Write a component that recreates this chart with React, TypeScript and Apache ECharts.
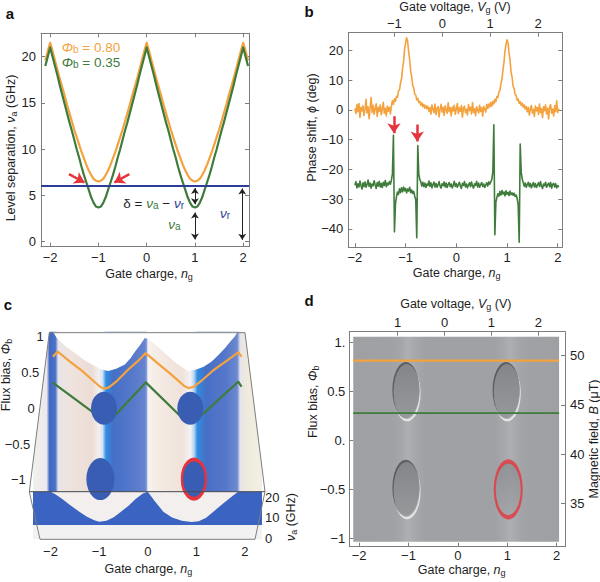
import React, { useEffect, useRef } from 'react';
import * as echarts from 'echarts';

const FONT = '"Liberation Sans", Arial, Helvetica, sans-serif';
const MINUS = '\u2212';
const ORANGE = '#f4a23e';
const GREEN = '#3f7b3b';
const BLUE = '#2d3e98';
const RED = '#e6343c';
const FRAME = '#7d7d7d';
const INK = '#1e1e1e';
const CLEAR = 'rgba(0,0,0,0)';

// ---------- a: level separation vs gate charge ----------
const NG_A_START = -2.1;
const NG_A_STEP = 0.05;
const NU_ORANGE = [
  19.6, 20.6, 21.5,
  20.6, 19.6, 18.6, 17.6, 16.7, 15.8, 14.8, 13.9, 13.0, 12.1, 11.3, 10.5, 9.7, 9.0, 8.3, 7.7, 7.2, 6.8, 6.6,
  6.5,
  6.6, 6.8, 7.2, 7.7, 8.3, 9.0, 9.7, 10.5, 11.3, 12.1, 13.0, 13.9, 14.8, 15.8, 16.7, 17.6, 18.6, 19.6, 20.6,
  21.5,
  20.6, 19.6, 18.6, 17.6, 16.7, 15.8, 14.8, 13.9, 13.0, 12.1, 11.3, 10.5, 9.7, 9.0, 8.3, 7.7, 7.2, 6.8, 6.6,
  6.5,
  6.6, 6.8, 7.2, 7.7, 8.3, 9.0, 9.7, 10.5, 11.3, 12.1, 13.0, 13.9, 14.8, 15.8, 16.7, 17.6, 18.6, 19.6, 20.6,
  21.5,
  20.6, 19.6,
];
const NU_GREEN = [
  19.0, 20.0, 21.0,
  20.0, 19.0, 18.0, 16.9, 15.9, 14.9, 13.9, 12.9, 12.0, 11.0, 10.0, 9.1, 8.1, 7.2, 6.4, 5.6, 4.8, 4.2, 3.8,
  3.7,
  3.8, 4.2, 4.8, 5.6, 6.4, 7.2, 8.1, 9.1, 10.0, 11.0, 12.0, 12.9, 13.9, 14.9, 15.9, 16.9, 18.0, 19.0, 20.0,
  21.0,
  20.0, 19.0, 18.0, 16.9, 15.9, 14.9, 13.9, 12.9, 12.0, 11.0, 10.0, 9.1, 8.1, 7.2, 6.4, 5.6, 4.8, 4.2, 3.8,
  3.7,
  3.8, 4.2, 4.8, 5.6, 6.4, 7.2, 8.1, 9.1, 10.0, 11.0, 12.0, 12.9, 13.9, 14.9, 15.9, 16.9, 18.0, 19.0, 20.0,
  21.0,
  20.0, 19.0,
];
const NU_R = 6.1;
const A_X_TICKS = [-2, -1, 0, 1, 2];
const A_Y_TICKS = [0, 5, 10, 15, 20];
const A_BLACK_ARROWS = [
  [[1, 5.8], [1, 4.05]],
  [[1, 3.15], [1, 0.25]],
  [[1.98, 5.75], [1.98, 0.2]],
];
const A_RED_ARROWS = [
  [[-1.61, 7.3], [-1.29, 6.4]],
  [[-0.36, 7.3], [-0.67, 6.4]],
];

// ---------- b: phase shift vs gate charge ----------
const NG_B_START = -2;
const NG_B_STEP = 0.02;
const PHASE_ORANGE = [
  0.5, -1.2, 1.8, -0.6, 2.2, -2.5, 0.9, -0.3, 1.4, -1.8,
  0.2, 3.6, -1.0, 1.1, -2.9, 0.7, 4.2, -0.8, 1.6, -1.4,
  0.4, 2.1, -2.2, 0.9, -0.5, 1.7, -1.6, 0.3, 2.6, -1.1,
  0.6, -2.0, 1.3, -0.4, 0.9, -1.3, 1.2, 3.1, 1.9, 3.8,
  2.9, 4.6, 4.3, 6.4, 6.8, 9.1, 10.5, 13.9, 16.3, 20.4,
  22.6, 24.3, 23.1, 19.6, 16.9, 13.0, 11.2, 8.2, 7.4, 5.3,
  5.0, 3.4, 3.9, 2.5, 2.9, 1.6, 2.4, 1.1, 1.9, 0.6,
  1.5, 0.4, 1.2, -0.5, 0.8, -1.4, 1.7, 0.2, -0.9, 2.0,
  -1.6, 0.5, 1.1, -2.3, 0.3, 1.9, -0.7, 0.9, -1.8, 1.4,
  0.1, -1.1, 2.4, -0.6, 0.8, -2.0, 1.0, -0.3, 1.6, -1.5,
  0.4, 2.2, -1.2, 0.7, -0.4, 1.5, -2.4, 0.6, 1.3, -0.9,
  0.2, -1.7, 1.8, -0.2, 0.9, -1.3, 2.5, -0.8, 0.4, -1.9,
  1.1, 0.0, -1.0, 1.6, -0.5, 0.8, -2.1, 1.2, 0.3, -0.7,
  1.9, 0.5, 2.0, 1.0, 2.6, 1.3, 2.9, 2.0, 3.6, 2.8,
  4.5, 4.2, 6.1, 6.6, 8.9, 10.3, 13.5, 16.0, 19.9, 22.1,
  23.6, 22.6, 19.2, 16.6, 12.7, 11.0, 8.0, 7.2, 5.2, 4.9,
  3.3, 3.7, 2.2, 2.8, 1.5, 2.3, 0.9, 1.7, 0.3, 1.2,
  -0.6, 0.9, -1.7, 0.4, 1.5, -1.0, 0.2, -2.2, 1.3, -0.3,
  0.8, -1.5, 2.0, -0.9, 0.5, -2.6, 1.1, -0.2, 1.7, -1.3,
  0.6, -3.0, 0.9, 1.8, -1.1, 0.3, -2.0, 1.4, -0.6, 3.1,
  -0.8, 0.5,
];
const PHASE_GREEN = [
  -25.3, -24.1, -26.2, -24.8, -25.9, -23.9, -25.4, -26.6, -24.5, -25.8,
  -24.2, -26.0, -25.1, -23.6, -25.7, -24.6, -26.3, -24.9, -25.5, -23.8,
  -25.2, -26.4, -24.4, -25.6, -24.0, -25.9, -24.7, -26.1, -24.3, -25.4,
  -23.7, -25.8, -24.6, -25.2, -24.1, -25.0, -23.6, -21.5, -8.5, -41.0,
  -31.5, -29.2, -27.6, -28.4, -26.5, -27.8, -26.2, -27.5, -25.9, -27.2,
  -26.4, -27.9, -26.6, -27.3, -26.0, -27.8, -26.9, -28.1, -27.4, -29.0,
  -30.2, -43.0, -12.0, -21.5, -23.4, -24.2, -25.6, -24.3, -25.8, -24.6,
  -26.1, -24.9, -25.4, -23.9, -25.7, -24.5, -26.2, -25.0, -24.3, -25.9,
  -24.7, -26.0, -25.2, -24.1, -25.6, -26.3, -24.8, -25.5, -24.2, -25.9,
  -24.6, -26.1, -25.0, -24.4, -25.8, -24.9, -26.2, -25.3, -24.0, -25.7,
  -24.8, -26.0, -25.1, -24.3, -25.6, -26.4, -24.7, -25.4, -24.1, -25.9,
  -24.9, -26.2, -25.2, -24.5, -25.8, -24.2, -25.6, -26.3, -24.8, -25.4,
  -24.0, -25.9, -24.6, -26.0, -25.1, -24.4, -25.7, -24.9, -26.1, -25.3,
  -24.5, -25.6, -24.2, -25.0, -24.1, -23.4, -20.8, -5.0, -42.0, -31.0,
  -29.4, -28.2, -29.0, -27.4, -28.6, -27.1, -28.3, -27.6, -28.9, -27.2,
  -28.4, -27.7, -28.8, -27.3, -28.5, -27.9, -28.7, -28.0, -29.1, -28.6,
  -29.8, -32.0, -44.5, -11.5, -21.0, -23.3, -24.4, -25.7, -24.6, -26.0,
  -25.1, -24.3, -25.8, -24.7, -26.2, -25.2, -24.4, -25.9, -24.8, -26.1,
  -25.3, -24.5, -25.7, -24.1, -25.6, -26.4, -24.9, -25.5, -24.3, -26.0,
  -25.2, -24.6, -25.8, -24.4, -26.3, -25.0, -24.7, -25.9, -24.8, -26.2,
  -25.4, -25.9,
];
const B_X_TICKS = [-2, -1, 0, 1, 2];
const B_VG_TICKS = [-1, 0, 1, 2];
const B_Y_TICKS = [-40, -30, -20, -10, 0, 10, 20];
const B_RED_ARROWS = [
  [[-1.23, -2.1], [-1.23, -7.8]],
  [[-0.77, -4.9], [-0.77, -10.6]],
];

// ---------- c: surface (projected) ----------
const C_ORANGE = [
  [-1.95, 0.72], [-1.85, 0.79], [-1.6, 0.65], [-1.35, 0.52], [-1.15, 0.4], [-1.0, 0.31], [-0.9, 0.27],
  [-0.8, 0.29], [-0.65, 0.37], [-0.4, 0.54], [-0.2, 0.66], [-0.04, 0.77], [0.2, 0.63], [0.45, 0.49],
  [0.65, 0.37], [0.75, 0.31], [0.84, 0.28], [0.95, 0.3], [1.1, 0.38], [1.35, 0.53], [1.6, 0.65],
  [1.86, 0.78], [1.93, 0.72],
];
const C_GREEN = [
  [-1.96, 0.36], [-1.5, 0.13], [-1.0, -0.12], [-0.85, -0.19], [-0.7, -0.12], [-0.04, 0.36],
  [0.7, -0.13], [0.85, -0.19], [1.07, -0.12], [1.86, 0.37], [1.93, 0.3],
];
// back edge of the surface, seen from above
const C_BACK_EDGE = [
  [-2.36, 1.068], [-1.95, 1.068], [-1.87, 0.98], [-1.7, 0.87], [-1.5, 0.77], [-1.3, 0.67], [-1.15, 0.61],
  [-0.95, 0.54], [-0.81, 0.52], [-0.65, 0.55], [-0.47, 0.61], [-0.35, 0.7], [-0.26, 0.79], [-0.15, 0.89],
  [-0.06, 0.98], [0.0, 0.97], [0.2, 0.86], [0.4, 0.74], [0.6, 0.62], [0.83, 0.52], [1.0, 0.54],
  [1.15, 0.58], [1.31, 0.65], [1.45, 0.74], [1.59, 0.84], [1.7, 0.93], [1.79, 1.0], [1.85, 1.068],
  [2.35, 1.068],
];
const C_HOLES = [[-0.9, 0.0], [0.875, 0.0], [-0.975, -0.99]];
const C_RED_HOLE = [0.95, -0.99];
const C_FRONT_NG = [
  -2.36, -2.0, -1.9, -1.75, -1.6, -1.4, -1.25, -1.1, -1.0, -0.85, -0.7, -0.55, -0.4, -0.25, -0.1, 0.0,
  0.15, 0.32, 0.5, 0.7, 0.9, 1.05, 1.2, 1.35, 1.55, 1.75, 1.86, 2.35,
];
const C_FRONT_NU = [
  22.7, 22.7, 21.5, 19.0, 16.3, 12.8, 10.5, 8.8, 8.1, 8.6, 10.3, 13.0, 15.8, 19.2, 21.8, 22.7,
  18.0, 13.0, 10.2, 8.5, 8.0, 8.3, 10.0, 13.0, 17.0, 20.8, 22.7, 22.7,
];
const C_X_TICKS = [-2, -1, 0, 1, 2];
const C_PHI_TICKS = [-1, -0.5, 0, 0.5, 1];
const C_NU_TICKS = [0, 10, 20];

// ---------- d: measured map ----------
const D_X_TICKS = [-2, -1, 0, 1, 2];
const D_VG_TICKS = [-1, 0, 1, 2];
const D_VG_LABELS = ['1', '0', '1', '2'];
const D_PHI_TICKS = [-1, -0.5, 0, 0.5, 1];
const D_PHI_LABELS = [MINUS + '1', MINUS + '0.5', '0.', '0.5', '1.'];
const D_B_TICKS = [35, 40, 45, 50];
const D_HOLES = [[-1.04, 0.5], [0.99, 0.5], [-1.04, -0.5]];
const D_RED_HOLE = [1.02, -0.5];
const D_PHI_ORANGE = 0.816;
const D_PHI_GREEN = 0.28;
const D_IMAGE_NG = [-2.12, 2.05];
const D_IMAGE_PHI = [-1.035, 1.06];

// ---------- styling ----------
const C_NG_MIN = -2.36;
const C_NG_MAX = 2.35;
// slanted left edge of the c box (top corner, bottom corner)
const C_BOX_LEFT = [[49.3, 332.7], [29.3, 491.7]];
const C_SHADE: [number, string][] = [
  [-2.36, '#f3f1ed'], [-2.08, '#ebe9ec'], [-2.02, '#4068c3'], [-1.9, '#4b72c8'], [-1.84, '#e8e4ea'],
  [-1.6, '#efe3dd'], [-1.15, '#ecdcd6'], [-1.0, '#f3efee'], [-0.93, '#d5e2f4'], [-0.86, '#2f8fe4'],
  [-0.72, '#4470c6'], [-0.3, '#5779cb'], [-0.06, '#6683cf'], [-0.015, '#8ea4da'], [0.0, '#f7f5f3'],
  [0.1, '#f6eee8'], [0.7, '#efe2da'], [0.88, '#f2f1f4'], [0.95, '#bcd6f2'], [1.02, '#2f8de2'],
  [1.2, '#476fc6'], [1.6, '#5577ca'], [1.84, '#6d88cf'], [1.9, '#e6e4ea'], [2.05, '#efeadc'], [2.35, '#f2f0e6'],
];
const D_SHADE: [number, string][] = [
  [-2.12, '#9ea0a3'], [-1.35, '#9fa1a4'], [-1.15, '#a4a6a9'], [-1.02, '#adafb2'], [-0.85, '#a5a7aa'],
  [-0.65, '#9fa1a4'], [0.75, '#9fa1a4'], [0.92, '#a5a7aa'], [1.06, '#adafb2'], [1.22, '#a4a6a9'],
  [1.45, '#9fa1a4'], [2.05, '#9ea0a3'],
];
const C_HOLE_SIZES = [[26, 33], [26, 33], [28, 42]];
const D_HOLE_SIZE = [26, 55];

const fmt = (v: number) => (v < 0 ? MINUS + String(-v) : String(v));
const pairs = (xs: number[], ys: number[]) => ys.map((y, i) => [xs[i], y]);
const grid = (start: number, step: number, n: number) =>
  Array.from({ length: n }, (_, i) => +(start + i * step).toFixed(4));

const NG_A = grid(NG_A_START, NG_A_STEP, NU_ORANGE.length);
const NG_B = grid(NG_B_START, NG_B_STEP, PHASE_ORANGE.length);

const gradient = (stops: [number, string][], min: number, max: number) =>
  new echarts.graphic.LinearGradient(
    0, 0, 1, 0,
    stops.map(([x, color]) => ({ offset: Math.min(1, Math.max(0, (x - min) / (max - min))), color })),
  );

// rich tokens: n = normal, i = italic, s = subscript; prefix o/g/b = orange/green/blue
const makeRich = (size: number, line: number) => {
  const out: Record<string, any> = {};
  const colors: Record<string, string> = { '': INK, o: ORANGE, g: GREEN, b: BLUE };
  const sub = Math.round(size * 0.72);
  Object.entries(colors).forEach(([p, c]) => {
    out[p + 'n'] = { fontFamily: FONT, fontSize: size, lineHeight: line, fill: c, color: c };
    out[p + 'i'] = { fontFamily: FONT, fontSize: size, fontStyle: 'italic', lineHeight: line, fill: c, color: c };
    out[p + 's'] = { fontFamily: FONT, fontSize: sub, lineHeight: 8, verticalAlign: 'bottom', fill: c, color: c };
  });
  return out;
};
const RICH_NAME = makeRich(12.5, 15);
const RICH_LABEL = makeRich(13.5, 14);

const text = (x: number, y: number, content: string, opts: any = {}) => ({
  type: 'text',
  x,
  y,
  z: 60,
  rotation: opts.rotate ? Math.PI / 2 : 0,
  silent: true,
  style: {
    text: content,
    rich: opts.rich || RICH_NAME,
    font: opts.font || `12.5px ${FONT}`,
    fill: INK,
    align: opts.align || 'center',
    verticalAlign: 'middle',
  },
});

const letter = (x: number, y: number, s: string) => ({
  type: 'text',
  x,
  y,
  z: 60,
  silent: true,
  style: { text: s, font: `bold 15px ${FONT}`, fill: '#111', align: 'center', verticalAlign: 'middle' },
});

const seg = (x1: number, y1: number, x2: number, y2: number, color = FRAME, width = 1) => ({
  type: 'line',
  z: 50,
  silent: true,
  shape: { x1, y1, x2, y2 },
  style: { stroke: color, lineWidth: width },
});

const mask = (points: number[][]) => ({
  type: 'polygon',
  z: 40,
  silent: true,
  shape: { points },
  style: { fill: '#ffffff', stroke: 'none' },
});

const labelStyle = { fontFamily: FONT, fontSize: 13, color: INK, interval: 0, hideOverlap: false };

const axis = (
  gridIndex: number,
  position: string,
  min: number,
  max: number,
  ticks: number[] | null,
  labels: any = null,
  extra: any = {},
) => ({
  type: 'value',
  gridIndex,
  position,
  min,
  max,
  axisLine: { show: true, onZero: false, lineStyle: { color: FRAME, width: 1 } },
  axisTick: ticks
    ? { show: true, inside: true, length: 4, interval: 0, customValues: ticks, lineStyle: { color: FRAME } }
    : { show: false },
  axisLabel: labels
    ? { show: true, customValues: ticks, ...labelStyle, ...labels }
    : { show: false },
  splitLine: { show: false },
  ...extra,
});

// axis whose line and ticks are drawn by the slanted box instead
const bareAxis = (
  gridIndex: number,
  position: string,
  min: number,
  max: number,
  ticks: number[],
  margin: number,
  showLabels = true,
) => ({
  ...axis(gridIndex, position, min, max, ticks, showLabels ? { formatter: fmt, margin } : null),
  z: 45,
  axisLine: { show: true, onZero: false, lineStyle: { color: CLEAR, width: 1 } },
  axisTick: { show: false },
});

const pick = (ticks: number[], names: string[]) => (v: number) => {
  const i = ticks.findIndex((t) => Math.abs(t - v) < 1e-6);
  return i >= 0 ? names[i] : '';
};

const markLines = (
  xi: number,
  yi: number,
  data: number[][][],
  color: string,
  width: number,
  symbol: string[],
  size: number,
) => ({
  type: 'line',
  xAxisIndex: xi,
  yAxisIndex: yi,
  data: [],
  silent: true,
  markLine: {
    silent: true,
    symbol,
    symbolSize: size,
    label: { show: false },
    lineStyle: { color, width, type: 'solid' },
    emphasis: { disabled: true },
    data: data.map(([a, b]) => [{ coord: a }, { coord: b }]),
  },
});

const area = (xi: number, yi: number, from: number[], to: number[], color: any, z = 1) => ({
  type: 'line',
  xAxisIndex: xi,
  yAxisIndex: yi,
  data: [],
  silent: true,
  z,
  markArea: {
    silent: true,
    label: { show: false },
    itemStyle: { color, opacity: 1 },
    emphasis: { disabled: true },
    data: [[{ coord: from }, { coord: to }]],
  },
});

const trace = (xi: number, yi: number, data: number[][], color: string, width: number, z = 3) => ({
  type: 'line',
  xAxisIndex: xi,
  yAxisIndex: yi,
  data,
  showSymbol: false,
  silent: true,
  z,
  lineStyle: { color, width, join: 'round' },
});

const fillAbove = (xi: number, yi: number, data: number[][], color: string, z = 2) => ({
  type: 'line',
  xAxisIndex: xi,
  yAxisIndex: yi,
  data,
  showSymbol: false,
  silent: true,
  z,
  lineStyle: { width: 0 },
  areaStyle: { origin: 'end', color, opacity: 1 },
});

function buildOption(): any {
  return {
    animation: false,
    backgroundColor: '#ffffff',
    grid: [
      { left: 41, top: 33.3, width: 208, height: 213.4 },
      { left: 348.3, top: 32.7, width: 214, height: 214.6 },
      { left: 33, top: 331.7, width: 229, height: 160 },
      { left: 33, top: 491.7, width: 229, height: 47.6 },
      { left: 349.3, top: 331.7, width: 215.7, height: 215 },
    ],
    xAxis: [
      axis(0, 'bottom', -2.19, 2.12, A_X_TICKS, { formatter: fmt, margin: 4 }),
      axis(0, 'top', -2.19, 2.12, A_X_TICKS),
      axis(1, 'bottom', -2.13, 2.09, B_X_TICKS, { formatter: fmt, margin: 4 }),
      axis(1, 'top', -1.96, 2.505, B_VG_TICKS, { formatter: fmt, margin: 3 }),
      { ...axis(2, 'bottom', C_NG_MIN, C_NG_MAX, null), show: false },
      bareAxis(3, 'bottom', C_NG_MIN, C_NG_MAX, C_X_TICKS, 6),
      axis(4, 'bottom', -2.2, 2.17, D_X_TICKS, { formatter: fmt, margin: 2 }),
      axis(4, 'top', -2.03, 2.57, D_VG_TICKS, { formatter: pick(D_VG_TICKS, D_VG_LABELS), margin: 3 }),
    ],
    yAxis: [
      axis(0, 'left', -0.54, 22.53, A_Y_TICKS, { formatter: fmt, margin: 5 }),
      axis(0, 'right', -0.54, 22.53, A_Y_TICKS),
      axis(1, 'left', -46.2, 26.0, B_Y_TICKS, { formatter: fmt, margin: 5 }),
      axis(1, 'right', -46.2, 26.0, B_Y_TICKS),
      // labels of this one follow the slanted box edge, placed after layout
      bareAxis(2, 'left', -1.166, 1.068, C_PHI_TICKS, 0, false),
      bareAxis(3, 'right', -0.49, 22.73, C_NU_TICKS, 3),
      axis(4, 'left', -1.086, 1.112, D_PHI_TICKS, { formatter: pick(D_PHI_TICKS, D_PHI_LABELS), margin: 4 }),
      axis(4, 'right', 30.59, 52.44, D_B_TICKS, { formatter: fmt, margin: 5 }),
    ],
    series: [
      // a
      markLines(0, 0, [[[-2.19, NU_R], [2.12, NU_R]]], BLUE, 2, ['none', 'none'], 0),
      trace(0, 0, pairs(NG_A, NU_ORANGE), ORANGE, 2.2),
      trace(0, 0, pairs(NG_A, NU_GREEN), GREEN, 2.2),
      markLines(0, 0, A_BLACK_ARROWS, '#222222', 1, ['arrow', 'arrow'], 6),
      markLines(0, 0, A_RED_ARROWS, RED, 2.5, ['none', 'arrow'], 10),
      // b
      trace(2, 2, pairs(NG_B, PHASE_ORANGE), ORANGE, 1.6),
      trace(2, 2, pairs(NG_B, PHASE_GREEN), GREEN, 1.6),
      markLines(2, 2, B_RED_ARROWS, RED, 2.5, ['none', 'arrow'], 10),
      // c, top face
      area(4, 4, [C_NG_MIN, -1.166], [C_NG_MAX, 1.068], gradient(C_SHADE, C_NG_MIN, C_NG_MAX)),
      fillAbove(4, 4, C_BACK_EDGE, '#ffffff'),
      trace(4, 4, C_ORANGE, ORANGE, 2.2),
      trace(4, 4, C_GREEN, GREEN, 2.2),
      {
        type: 'scatter',
        xAxisIndex: 4,
        yAxisIndex: 4,
        silent: true,
        z: 5,
        symbol: 'circle',
        data: [
          ...C_HOLES.map((p, i) => ({ value: p, symbolSize: C_HOLE_SIZES[i] })),
          {
            value: C_RED_HOLE,
            symbolSize: [24, 39],
            itemStyle: { color: '#3a5db4', borderColor: RED, borderWidth: 3 },
          },
        ],
        itemStyle: { color: '#3a5db4', opacity: 1 },
      },
      // c, front face
      area(5, 5, [C_NG_MIN, -0.49], [C_NG_MAX, 6.5], '#f2f2f2'),
      area(5, 5, [C_NG_MIN, 6.5], [C_NG_MAX, 22.73], '#3b63c1'),
      fillAbove(5, 5, pairs(C_FRONT_NG, C_FRONT_NU), '#f3efee', 3),
      // d
      area(6, 6, [D_IMAGE_NG[0], D_IMAGE_PHI[0]], [D_IMAGE_NG[1], D_IMAGE_PHI[1]], gradient(D_SHADE, D_IMAGE_NG[0], D_IMAGE_NG[1])),
      {
        type: 'scatter', xAxisIndex: 6, yAxisIndex: 6, silent: true, z: 3, symbol: 'circle',
        symbolSize: [D_HOLE_SIZE[0] + 1, D_HOLE_SIZE[1] + 1], symbolOffset: [0.5, 1.8],
        data: D_HOLES, itemStyle: { color: '#f4f4f4' },
      },
      {
        type: 'scatter', xAxisIndex: 6, yAxisIndex: 6, silent: true, z: 3, symbol: 'circle',
        symbolSize: [D_HOLE_SIZE[0] + 1, D_HOLE_SIZE[1] + 1], symbolOffset: [-0.7, -1.6],
        data: D_HOLES, itemStyle: { color: '#4a4c4f' },
      },
      {
        type: 'scatter', xAxisIndex: 6, yAxisIndex: 6, silent: true, z: 4, symbol: 'circle',
        symbolSize: D_HOLE_SIZE,
        data: [...D_HOLES, D_RED_HOLE],
        itemStyle: {
          color: new echarts.graphic.LinearGradient(0, 0, 0, 1, [
            { offset: 0, color: '#8a8c8f' },
            { offset: 1, color: '#a2a4a7' },
          ]),
        },
      },
      {
        type: 'scatter', xAxisIndex: 6, yAxisIndex: 6, silent: true, z: 5, symbol: 'circle',
        symbolSize: [D_HOLE_SIZE[0] + 1, D_HOLE_SIZE[1] + 1],
        data: [D_RED_HOLE],
        itemStyle: { color: CLEAR, borderColor: RED, borderWidth: 3 },
      },
      trace(6, 6, [[D_IMAGE_NG[0], D_PHI_ORANGE], [D_IMAGE_NG[1], D_PHI_ORANGE]], ORANGE, 2.2, 6),
      trace(6, 6, [[D_IMAGE_NG[0], D_PHI_GREEN], [D_IMAGE_NG[1], D_PHI_GREEN]], GREEN, 1.8, 6),
    ],
    graphic: {
      elements: [
        letter(10, 13, 'a'),
        letter(309, 11, 'b'),
        letter(8, 304, 'c'),
        letter(309, 300, 'd'),
        // a
        text(149, 274, '{n|Gate charge, }{i|n}{s|g}'),
        text(11, 148, '{n|Level separation, }{i|ν}{s|a}{n| (GHz)}', { rotate: true }),
        text(61.7, 47.8, '{oi|Φ}{os|b}{on| = 0.80}', { rich: RICH_LABEL, align: 'left' }),
        text(61.7, 62.2, '{gi|Φ}{gs|b}{gn| = 0.35}', { rich: RICH_LABEL, align: 'left' }),
        text(123.3, 203.3, '{n|δ = }{gi|ν}{gs|a}{n| − }{bi|ν}{bs|r}', { rich: RICH_LABEL, align: 'left' }),
        text(168.3, 224, '{gi|ν}{gs|a}', { rich: RICH_LABEL, align: 'left' }),
        text(220, 213, '{bi|ν}{bs|r}', { rich: RICH_LABEL, align: 'left' }),
        // b
        text(456.7, 273, '{n|Gate charge, }{i|n}{s|g}'),
        text(455, 7, '{n|Gate voltage, }{i|V}{s|g}{n| (V)}'),
        text(311.7, 127.5, '{n|Phase shift, }{i|ϕ}{n| (deg)}', { rotate: true }),
        // c: white outside the slanted box, then the box edges
        mask([[33, 330], [49.3, 330], [49.3, 332.7], [33, 462]]),
        mask([[245, 330], [262, 330], [262, 468], [245, 332.7]]),
        text(148.3, 569, '{n|Gate charge, }{i|n}{s|g}'),
        text(6, 375, '{n|Flux bias, }{i|Φ}{s|b}', { rotate: true }),
        text(291, 517, '{i|ν}{s|a}{n| (GHz)}', { rotate: true }),
        seg(C_BOX_LEFT[0][0], C_BOX_LEFT[0][1], 245, 332.7),
        seg(C_BOX_LEFT[0][0], C_BOX_LEFT[0][1], C_BOX_LEFT[1][0], C_BOX_LEFT[1][1]),
        seg(245, 332.7, 265, 491.7),
        seg(29.3, 491.7, 265, 491.7, '#4a4a4a'),
        seg(29.3, 491.7, 40, 539.3),
        seg(265, 491.7, 255, 539.3),
        seg(40, 539.3, 255, 539.3),
        // d
        text(455.8, 304, '{n|Gate voltage, }{i|V}{s|g}{n| (V)}'),
        text(312.5, 401.7, '{n|Flux bias, }{i|Φ}{s|b}', { rotate: true }),
        text(594, 439, '{n|Magnetic field, }{i|B}{n| (μT)}', { rotate: true }),
        text(461.7, 570, '{n|Gate charge, }{i|n}{s|g}'),
      ],
    },
  };
}

// c's flux-bias tick labels sit along the slanted left edge of the box
function slantedLabels(chart: echarts.ECharts) {
  const [[xTop, yTop], [xBot, yBot]] = C_BOX_LEFT;
  return C_PHI_TICKS.map((v) => {
    const [, py] = chart.convertToPixel({ xAxisIndex: 4, yAxisIndex: 4 }, [0, v]) as number[];
    const edge = xTop + ((py - yTop) / (yBot - yTop)) * (xBot - xTop);
    return {
      type: 'text',
      x: edge - 5,
      y: py,
      z: 60,
      silent: true,
      style: { text: fmt(v), font: `13px ${FONT}`, fill: INK, align: 'right', verticalAlign: 'middle' },
    };
  });
}

export default function App() {
  const ref = useRef<HTMLDivElement>(null);

  useEffect(() => {
    if (!ref.current) return;
    const chart = echarts.init(ref.current, null, { renderer: 'svg' });
    const option = buildOption();
    chart.setOption(option);
    option.graphic.elements.push(...slantedLabels(chart));
    chart.setOption(option, true);
    return () => chart.dispose();
  }, []);

  return (
    <div
      ref={ref}
      style={{ position: 'fixed', left: 0, top: 0, width: 600, height: 582, background: '#fff' }}
    />
  );
}
